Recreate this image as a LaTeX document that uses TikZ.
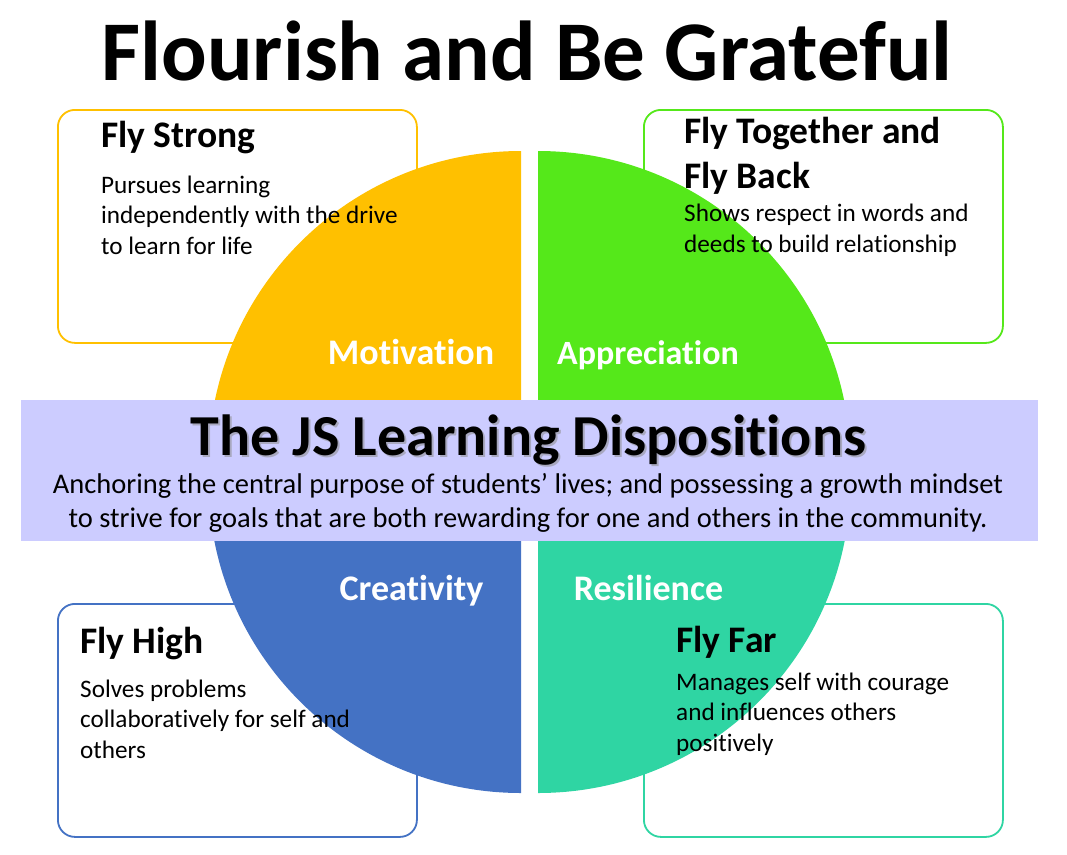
\documentclass[tikz,border=0pt]{standalone}
\usepackage{fontspec}
\setmainfont{Carlito}[Ligatures=NoCommon]
\definecolor{orangeC}{HTML}{FFC000}
\definecolor{greenC}{HTML}{55E81A}
\definecolor{blueC}{HTML}{4472C4}
\definecolor{tealC}{HTML}{2FD5A3}
\definecolor{bandC}{HTML}{CCCCFF}
\tikzset{
  box/.style={draw, line width=1.8pt, fill=white, rounded corners=17pt, anchor=north west, minimum width=359pt, minimum height=233pt, inner sep=0pt},
  head/.style={anchor=base west, inner sep=0pt, align=left, font=\fontsize{37.5}{45}\selectfont\bfseries},
  body/.style={anchor=base west, inner sep=0pt, align=left, font=\fontsize{25.2}{30.5}\selectfont},
  quadlabel/.style={anchor=base, inner sep=0pt, text=white, font=\fontsize{36}{40}\selectfont\bfseries},
}
\begin{document}
\begin{tikzpicture}[x=1pt,y=-1pt]
\useasboundingbox (0,0) rectangle (1067,854);
% boxes
\node[box, draw=orangeC] (bTL) at (57,109) {};
\node[box, draw=greenC] (bTR) at (643,109) {};
\node[box, draw=blueC] (bBL) at (57,603) {};
\node[box, draw=tealC] (bBR) at (643,603) {};
% quadrants
\fill[orangeC] (521,463.5) -- (208.5,463.5) arc[start angle=180, end angle=270, radius=312.5] -- cycle;
\fill[greenC] (538,463.5) -- (538,151) arc[start angle=270, end angle=360, radius=312.5] -- cycle;
\fill[blueC] (521,480.5) -- (208.5,480.5) arc[start angle=180, end angle=90, radius=312.5] -- cycle;
\fill[tealC] (538,480.5) -- (850.5,480.5) arc[start angle=0, end angle=90, radius=312.5] -- cycle;
% band
\node[fill=bandC, anchor=north west, minimum width=1017pt, minimum height=141pt, inner sep=0pt] (band) at (21,400) {};
% title
\node[anchor=base, inner sep=0pt, font=\fontsize{85}{90}\selectfont\bfseries] (title) at (527,80) {Flourish and Be Grateful};
% box texts (base = baseline of last line)
\node[head] (hTL) at (101,147) {Fly Strong};
\node[body] (tTL) at (101,254) {Pursues learning\\independently with the drive\\to learn for life};
\node[head] (hTR) at (684,188) {Fly Together and\\Fly Back};
\node[body] (tTR) at (684,252) {Shows respect in words and\\deeds to build relationship};
\node[head] (hBL) at (80,653) {Fly High};
\node[body] (tBL) at (80,758) {Solves problems\\collaboratively for self and\\others};
\node[head] (hBR) at (676,652) {Fly Far};
\node[body] (tBR) at (676,751) {Manages self with courage\\and influences others\\positively};
% quadrant labels
\node[quadlabel] (lM) at (411,364) {Motivation};
\node[quadlabel, font=\fontsize{34}{40}\selectfont\bfseries] (lA) at (648,364) {Appreciation};
\node[quadlabel] (lC) at (411.5,600) {Creativity};
\node[quadlabel] (lR) at (648.5,600) {Resilience};
% band texts
\node[anchor=base, inner sep=0pt, text=black!45, opacity=0.55, font=\fontsize{58}{60}\selectfont\bfseries] (shadow) at (530.5,457.5) {The JS Learning Dispositions};
\node[anchor=base, inner sep=0pt, font=\fontsize{58}{60}\selectfont\bfseries] (btitle) at (528.5,455) {The JS Learning Dispositions};
\node[anchor=base, inner sep=0pt, align=center, font=\fontsize{28.5}{34}\selectfont] (bsub) at (528,527) {Anchoring the central purpose of students’ lives; and possessing a growth mindset\\to strive for goals that are both rewarding for one and others in the community.};
\end{tikzpicture}
\end{document}
